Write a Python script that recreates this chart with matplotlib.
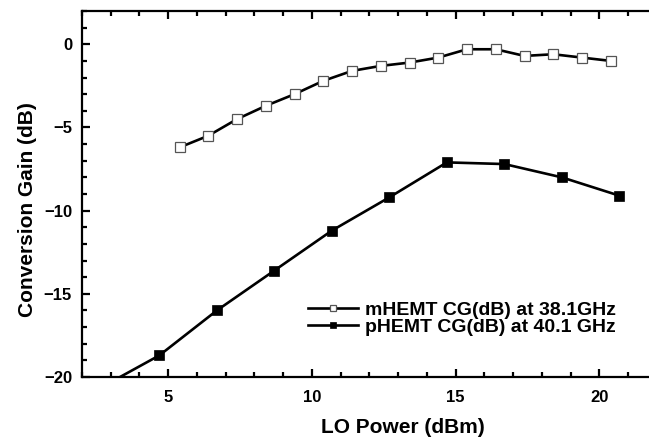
import matplotlib
matplotlib.use("Agg")
import matplotlib.pyplot as plt
from matplotlib.ticker import MultipleLocator

plt.rcParams['font.family'] = ['Liberation Sans', 'DejaVu Sans']
plt.rcParams['font.weight'] = 'bold'

# LO power sweep (dBm) and conversion gain (dB)
lo_mhemt = [5.4, 6.4, 7.4, 8.4, 9.4, 10.4, 11.4, 12.4, 13.4, 14.4, 15.4, 16.4, 17.4, 18.4, 19.4, 20.4]
cg_mhemt = [-6.2, -5.5, -4.5, -3.7, -3.0, -2.2, -1.6, -1.3, -1.1, -0.8, -0.3, -0.3, -0.7, -0.6, -0.8, -1.0]

lo_phemt = [2.7, 4.7, 6.7, 8.7, 10.7, 12.7, 14.7, 16.7, 18.7, 20.7]
cg_phemt = [-20.6, -18.7, -16.0, -13.6, -11.2, -9.2, -7.1, -7.2, -8.0, -9.1]

label_mhemt = "mHEMT CG(dB) at 38.1GHz"
label_phemt = "pHEMT CG(dB) at 40.1 GHz"

W, H = 649, 446
fig = plt.figure(figsize=(W / 100, H / 100), dpi=100)
x0, x1, y0, y1 = 81.75, 656.75, 11.0, 377.0
ax = fig.add_axes([x0 / W, (H - y1) / H, (x1 - x0) / W, (y1 - y0) / H])

ax.plot(lo_mhemt, cg_mhemt, color='black', lw=1.9, marker='s', ms=7.2,
        mfc='white', mec='#555555', mew=0.9, label=label_mhemt, zorder=3)
ax.plot(lo_phemt, cg_phemt, color='black', lw=1.9, marker='s', ms=7.4,
        mfc='black', mec='black', mew=0.5, label=label_phemt, zorder=3)

ax.set_xlim(2, 22)
ax.set_ylim(-20, 2)
ax.xaxis.set_major_locator(MultipleLocator(5))
ax.xaxis.set_minor_locator(MultipleLocator(1))
ax.yaxis.set_major_locator(MultipleLocator(5))
ax.yaxis.set_minor_locator(MultipleLocator(1))

for s in ax.spines.values():
    s.set_linewidth(1.6)
ax.tick_params(which='both', direction='in', top=True, right=True, width=1.6,
               labelsize=12)
ax.tick_params(which='major', length=5.8, pad=7)
ax.tick_params(which='minor', length=3.6)
ax.tick_params(axis='x', which='major', pad=9)

ax.set_xlabel("LO Power (dBm)", fontsize=15, fontweight='bold', va='baseline')
ax.xaxis.set_label_coords((403 - x0) / (x1 - x0), (y1 - 433) / (y1 - y0))
ax.set_ylabel("Conversion Gain (dB)", fontsize=15, fontweight='bold')
ax.yaxis.set_label_coords((37 - x0) / (x1 - x0), (y1 - 210) / (y1 - y0))

leg = ax.legend(loc='upper left', bbox_to_anchor=((308 - x0) / (x1 - x0), (y1 - 301) / (y1 - y0)),
                frameon=False, fontsize=14, handlelength=2.55, handletextpad=0.36,
                labelspacing=0.0, borderpad=0, borderaxespad=0, markerscale=0.6)

fig.savefig("out.png", dpi=100)
